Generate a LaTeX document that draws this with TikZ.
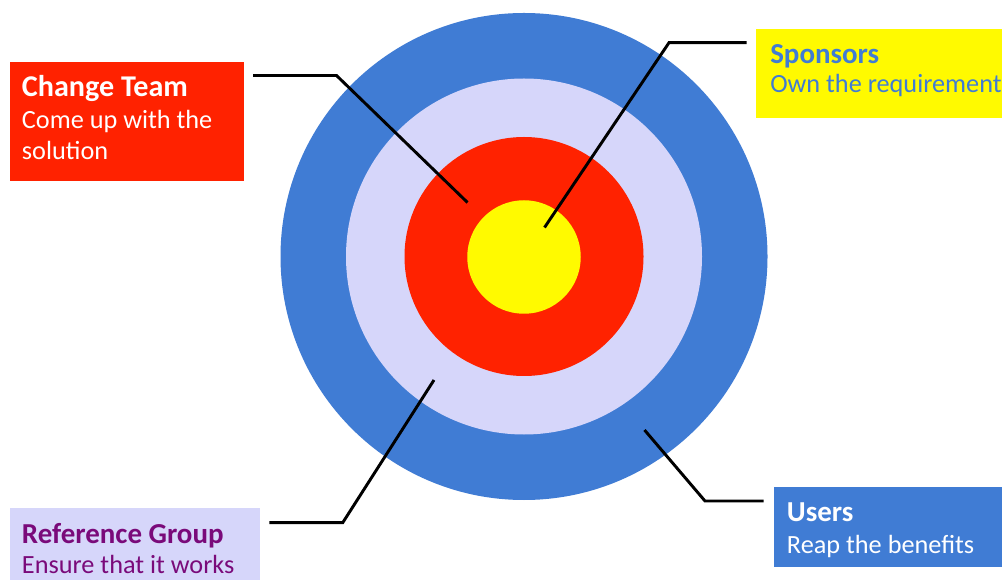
\documentclass[tikz,border=0pt]{standalone}
\usepackage{fontspec}
\setmainfont{Carlito}
\definecolor{ringblue}{RGB}{64,124,212}
\definecolor{lav}{RGB}{214,214,250}
\definecolor{tred}{RGB}{255,34,0}
\definecolor{tyel}{RGB}{255,250,0}
\definecolor{rgpurple}{RGB}{122,10,122}
\tikzset{
  box/.style={rectangle, draw=none, inner sep=0pt, anchor=north west},
  ttl/.style={anchor=base west, inner sep=0pt, font=\fontsize{21.7}{26}\selectfont\bfseries},
  bdy/.style={anchor=base west, inner sep=0pt, font=\fontsize{19.7}{24}\selectfont},
  lead/.style={draw=black, line width=2.2pt},
  ring/.style={circle, draw=none, inner sep=0pt, anchor=center}
}
\begin{document}
\begin{tikzpicture}[x=0.75pt,y=-0.75pt]
\useasboundingbox (0,0) rectangle (1002,580);
\clip (0,0) rectangle (1002,580);
\fill[white] (0,0) rectangle (1002,580);
% target
\node[ring, fill=ringblue, minimum size=487*0.75pt] (outer) at (524,256.5) {};
\node[ring, fill=lav, minimum size=356*0.75pt] (lavring) at (524,256.5) {};
\node[ring, fill=tred, minimum size=239*0.75pt] (redring) at (524,256.5) {};
\node[ring, fill=tyel, minimum size=113.5*0.75pt] (bull) at (524,257) {};
% boxes
\node[box, fill=tred, minimum width=234*0.75pt, minimum height=119.5*0.75pt] (ct) at (10,61.7) {};
\node[box, fill=tyel, minimum width=260*0.75pt, minimum height=89.5*0.75pt] (sp) at (756,28.3) {};
\node[box, fill=ringblue, minimum width=240*0.75pt, minimum height=80.5*0.75pt] (us) at (773.3,486.7) {};
\node[box, fill=lav, minimum width=250.7*0.75pt, minimum height=90*0.75pt] (rg) at (9.3,507.7) {};
% texts
\node[ttl, text=white, font=\fontsize{22.6}{27}\selectfont\bfseries] (ctT) at (21.7,96.7) {Change Team};
\node[bdy, text=white] (ctB1) at (21.7,128.5) {Come up with the};
\node[bdy, text=white] (ctB2) at (21.7,160) {solution};
\node[ttl, text=ringblue] (spT) at (770,63.5) {Sponsors};
\node[bdy, text=ringblue] (spB) at (770,92.3) {Own the requirement};
\node[ttl, text=white] (usT) at (786.7,521.7) {Users};
\node[bdy, text=white] (usB) at (786.7,553.3) {Reap the benefits};
\node[ttl, text=rgpurple] (rgT) at (21.7,543.3) {Reference Group};
\node[bdy, text=rgpurple] (rgB) at (21.7,573.3) {Ensure that it works};
% leader coordinates
\coordinate (ctS) at (253,75.5);
\coordinate (ctK) at (336.5,75.5);
\coordinate (ctE) at (467.5,202.5);
\coordinate (spS) at (746.5,42.7);
\coordinate (spK) at (669,42.7);
\coordinate (spE) at (544.5,227.5);
\coordinate (usS) at (644.5,430);
\coordinate (usK) at (705,501);
\coordinate (usE) at (763.5,501);
\coordinate (rgS) at (434,380);
\coordinate (rgK) at (342.7,522.7);
\coordinate (rgE) at (269.3,522.7);
% leaders
\draw[lead] (ctS) -- (ctK) -- (ctE);
\draw[lead] (spS) -- (spK) -- (spE);
\draw[lead] (usS) -- (usK) -- (usE);
\draw[lead] (rgS) -- (rgK) -- (rgE);
\end{tikzpicture}
\end{document}
